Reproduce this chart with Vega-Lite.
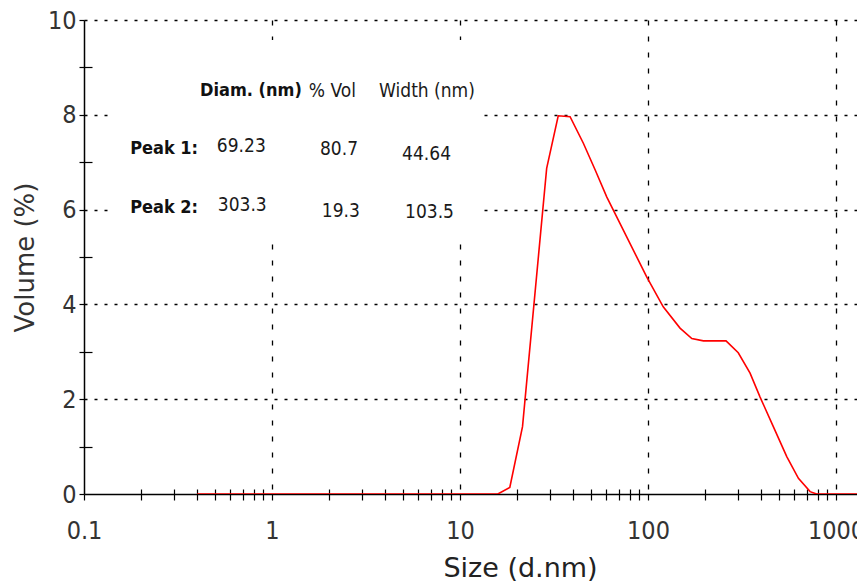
{
  "$schema": "https://vega.github.io/schema/vega-lite/v6.json",
  "width": 773,
  "height": 474,
  "autosize": {"type": "none"},
  "padding": {"left": 84, "top": 20, "right": 0, "bottom": 94},
  "background": "white",
  "config": {"view": {"stroke": null}},
  "datasets": {
    "curve": [
      {"size": 0.4, "volume": 0},
      {"size": 1, "volume": 0},
      {"size": 3, "volume": 0},
      {"size": 10, "volume": 0},
      {"size": 15.9, "volume": 0},
      {"size": 18.4, "volume": 0.14},
      {"size": 21.5, "volume": 1.42},
      {"size": 28.9, "volume": 6.87},
      {"size": 33.3, "volume": 7.98},
      {"size": 38.5, "volume": 7.96},
      {"size": 45.3, "volume": 7.4},
      {"size": 52.3, "volume": 6.84},
      {"size": 60.3, "volume": 6.27},
      {"size": 98.4, "volume": 4.58},
      {"size": 120.5, "volume": 3.95},
      {"size": 148, "volume": 3.5},
      {"size": 171, "volume": 3.28},
      {"size": 197, "volume": 3.23},
      {"size": 260, "volume": 3.23},
      {"size": 302, "volume": 2.98},
      {"size": 349, "volume": 2.55},
      {"size": 394, "volume": 2.05},
      {"size": 464, "volume": 1.42},
      {"size": 547, "volume": 0.79},
      {"size": 631, "volume": 0.33},
      {"size": 728, "volume": 0.05},
      {"size": 789, "volume": 0},
      {"size": 1000, "volume": 0},
      {"size": 1293, "volume": 0}
    ],
    "box": [{"x0": 0.141, "x1": 13.2, "y0": 5.36, "y1": 9.58}],
    "table": [
      {"label": "Diam. (nm)", "x": 0.414, "y": 8.5, "bold": true},
      {"label": "% Vol", "x": 1.57, "y": 8.5, "bold": false},
      {"label": "Width (nm)", "x": 3.71, "y": 8.5, "bold": false},
      {"label": "Peak 1:", "x": 0.176, "y": 7.28, "bold": true},
      {"label": "Peak 2:", "x": 0.176, "y": 6.03, "bold": true},
      {"label": "69.23", "x": 0.509, "y": 7.34, "bold": false},
      {"label": "80.7", "x": 1.8, "y": 7.28, "bold": false},
      {"label": "44.64", "x": 4.92, "y": 7.18, "bold": false},
      {"label": "303.3", "x": 0.515, "y": 6.1, "bold": false},
      {"label": "19.3", "x": 1.84, "y": 5.97, "bold": false},
      {"label": "103.5", "x": 5.1, "y": 5.94, "bold": false}
    ]
  },
  "resolve": {"axis": {"x": "independent", "y": "independent"}},
  "layer": [
    {
      "data": {"name": "box"},
      "mark": {"type": "rect", "color": "white"},
      "encoding": {
        "x": {
          "field": "x0", "type": "quantitative",
          "scale": {"type": "log", "domain": [0.1, 1293], "nice": false},
          "axis": {
            "orient": "bottom", "title": null,
            "values": [0.2, 0.3, 0.4, 0.5, 0.6, 0.7, 0.8, 0.9, 2, 3, 4, 5, 6, 7, 8, 9, 20, 30, 40, 50, 60, 70, 80, 90, 200, 300, 400, 500, 600, 700, 800, 900],
            "labels": false, "domain": false, "grid": false,
            "tickSize": -5, "tickColor": "black", "tickWidth": 1.2
          }
        },
        "x2": {"field": "x1"},
        "y": {
          "field": "y0", "type": "quantitative",
          "scale": {"domain": [0, 10], "nice": false},
          "axis": {
            "orient": "left", "title": null,
            "values": [1, 3, 5, 7, 9],
            "labels": false, "domain": false, "grid": false,
            "tickSize": -8, "tickColor": "black", "tickWidth": 1.2
          }
        },
        "y2": {"field": "y1"}
      }
    },
    {
      "data": {"name": "curve"},
      "mark": {"type": "line", "color": "#ff0000", "strokeWidth": 1.6, "clip": true},
      "encoding": {
        "x": {
          "field": "size", "type": "quantitative",
          "scale": {"type": "log", "domain": [0.1, 1293], "nice": false},
          "axis": {
            "orient": "bottom",
            "title": "Size (d.nm)",
            "values": [0.1, 0.2, 0.3, 0.4, 0.5, 0.6, 0.7, 0.8, 0.9, 1, 2, 3, 4, 5, 6, 7, 8, 9, 10, 20, 30, 40, 50, 60, 70, 80, 90, 100, 200, 300, 400, 500, 600, 700, 800, 900, 1000],
            "labelExpr": "abs(log(datum.value)/LN10 - round(log(datum.value)/LN10)) < 0.001 ? '' + datum.value : ''",
            "labelOverlap": false,
            "labelFlush": false,
            "labelFont": "DejaVu Sans Condensed, Liberation Sans, sans-serif",
            "labelFontSize": 25,
            "labelColor": "#333333",
            "labelPadding": 18,
            "grid": true,
            "gridOpacity": {"condition": {"test": "abs(log(datum.value)/LN10 - round(log(datum.value)/LN10)) < 0.001 && datum.value > 0.5", "value": 1}, "value": 0},
            "gridDash": [5, 11],
            "gridColor": "black",
            "gridWidth": 1.3,
            "tickSize": 6,
            "tickColor": "black",
            "tickWidth": 1.2,
            "domainColor": "black",
            "domainWidth": 1.5,
            "titleFont": "DejaVu Sans",
            "titleFontSize": 27,
            "titleFontWeight": "normal",
            "titleColor": "#222222",
            "titlePadding": 12,
            "titleX": 436
          }
        },
        "y": {
          "field": "volume", "type": "quantitative",
          "scale": {"domain": [0, 10], "nice": false},
          "axis": {
            "orient": "left",
            "title": "Volume (%)",
            "values": [0, 1, 2, 3, 4, 5, 6, 7, 8, 9, 10],
            "labelExpr": "datum.value % 2 === 0 ? datum.label : ''",
            "labelFont": "DejaVu Sans Condensed, Liberation Sans, sans-serif",
            "labelFontSize": 25,
            "labelColor": "#333333",
            "labelPadding": 3,
            "grid": true,
            "gridOpacity": {"condition": {"test": "datum.value % 2 === 0 && datum.value > 0", "value": 1}, "value": 0},
            "gridDash": [3, 7],
            "gridColor": "black",
            "gridWidth": 1.3,
            "tickSize": 5,
            "tickColor": "black",
            "tickWidth": 1.2,
            "domainColor": "black",
            "domainWidth": 1.5,
            "titleFont": "DejaVu Sans",
            "titleFontSize": 26,
            "titleFontWeight": "normal",
            "titleColor": "#333333",
            "titlePadding": 9
          }
        }
      }
    },
    {
      "data": {"name": "table"},
      "transform": [{"filter": "datum.bold"}],
      "mark": {"type": "text", "align": "left", "baseline": "middle", "font": "DejaVu Sans Condensed, Liberation Sans, sans-serif", "fontSize": 18, "fontWeight": "bold", "color": "#111111"},
      "encoding": {
        "x": {"field": "x", "type": "quantitative", "scale": {"type": "log", "domain": [0.1, 1293], "nice": false}, "axis": null},
        "y": {"field": "y", "type": "quantitative", "scale": {"domain": [0, 10], "nice": false}, "axis": null},
        "text": {"field": "label"}
      }
    },
    {
      "data": {"name": "table"},
      "transform": [{"filter": "!datum.bold"}],
      "mark": {"type": "text", "align": "left", "baseline": "middle", "font": "DejaVu Sans Condensed, Liberation Sans, sans-serif", "fontSize": 19, "color": "#1a1a1a"},
      "encoding": {
        "x": {"field": "x", "type": "quantitative", "scale": {"type": "log", "domain": [0.1, 1293], "nice": false}, "axis": null},
        "y": {"field": "y", "type": "quantitative", "scale": {"domain": [0, 10], "nice": false}, "axis": null},
        "text": {"field": "label"}
      }
    }
  ]
}
